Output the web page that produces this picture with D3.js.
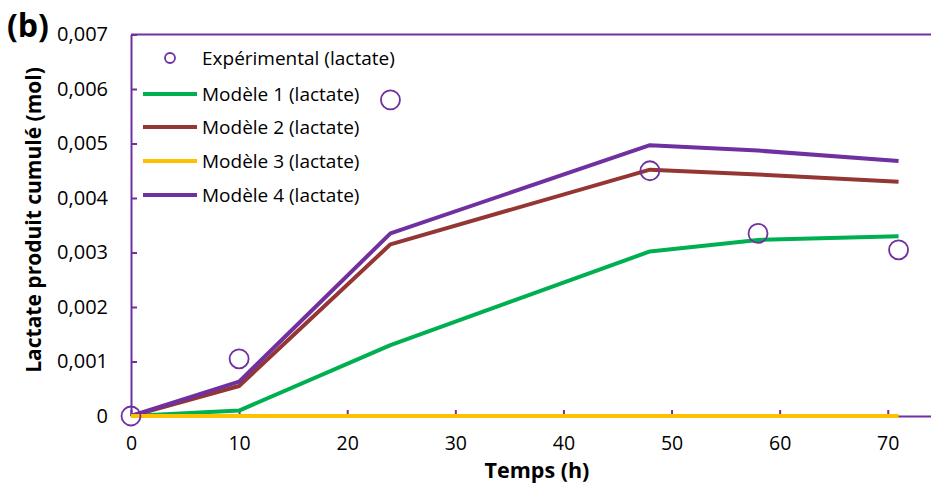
<!DOCTYPE html>
<html><head><meta charset="utf-8">
<script src="https://cdn.jsdelivr.net/npm/d3@7"></script>
<style>body{margin:0;background:#fff}svg{display:block}text{font-family:"Open Sans",Lato,sans-serif}</style>
</head><body><svg id="c" width="931" height="486"></svg>
<script>
const times = [0, 10, 24, 48, 58, 71];
const experimental = [0, 0.00105, 0.0058, 0.0045, 0.00335, 0.00305];
const modele1 = [0, 0.0001, 0.0013, 0.00302, 0.00323, 0.0033];
const modele2 = [0, 0.00055, 0.00315, 0.00452, 0.00443, 0.0043];
const modele3 = [0, 0, 0, 0, 0, 0];
const modele4 = [0, 0.00063, 0.00335, 0.00497, 0.00487, 0.00468];
const xTicks = [0, 10, 20, 30, 40, 50, 60, 70];
const yTicks = [0, 0.001, 0.002, 0.003, 0.004, 0.005, 0.006, 0.007];
const seriesNames = ["Expérimental (lactate)", "Modèle 1 (lactate)", "Modèle 2 (lactate)", "Modèle 3 (lactate)", "Modèle 4 (lactate)"];
const colors = {exp:"#7030A0", m1:"#00B050", m2:"#943634", m3:"#FFC000", m4:"#7030A0"};

const svg = d3.select("#c");
const x = d3.scaleLinear().domain([0, 74]).range([131, 931]);
const y = d3.scaleLinear().domain([0, 0.007]).range([416, 34.5]);
const axisColor = "#7030A0";
const fmt = d => d === 0 ? "0" : d3.format(".3f")(d).replace(".", ",");

// top border
svg.append("line").attr("x1", x(0)).attr("x2", 931).attr("y1", y(0.007)).attr("y2", y(0.007))
  .attr("stroke", axisColor).attr("stroke-width", 2);

// y axis
const ya = svg.append("g").attr("transform", `translate(${x(0)},0)`)
  .call(d3.axisLeft(y).tickValues(yTicks).tickFormat(fmt).tickSizeInner(-6).tickSizeOuter(0).tickPadding(23));
ya.select(".domain").attr("stroke", axisColor).attr("stroke-width", 2);
ya.selectAll(".tick line").attr("stroke", axisColor).attr("stroke-width", 2);
ya.selectAll("text").attr("font-size", 20).attr("fill", "#000").attr("font-family", "Open Sans");

// x axis
const xa = svg.append("g").attr("transform", `translate(0,${y(0)})`)
  .call(d3.axisBottom(x).tickValues(xTicks).tickFormat(d3.format("d")).tickSizeInner(-6).tickSizeOuter(0).tickPadding(20));
xa.select(".domain").attr("stroke", axisColor).attr("stroke-width", 2);
xa.selectAll(".tick line").attr("stroke", axisColor).attr("stroke-width", 2);
xa.selectAll("text").attr("font-size", 19.5).attr("fill", "#000").attr("font-family", "Open Sans");

// lines
const line = d3.line().x((d, i) => x(times[i])).y(d => y(d));
[[modele1, colors.m1], [modele2, colors.m2], [modele4, colors.m4], [modele3, colors.m3]].forEach(([data, c]) => {
  svg.append("path").datum(data).attr("d", line).attr("fill", "none").attr("stroke", c)
    .attr("stroke-width", 4).attr("stroke-linejoin", "round");
});

// experimental points
svg.selectAll("circle.exp").data(experimental).join("circle").attr("class", "exp")
  .attr("cx", (d, i) => x(times[i])).attr("cy", d => y(d)).attr("r", 9.5)
  .attr("fill", "none").attr("stroke", colors.exp).attr("stroke-width", 1.8);

// legend
const lg = svg.append("g");
const lgY = [58, 94, 127, 161, 195];
lg.append("circle").attr("cx", 170).attr("cy", lgY[0]).attr("r", 5).attr("fill", "none").attr("stroke", colors.exp).attr("stroke-width", 1.8);
[colors.m1, colors.m2, colors.m3, colors.m4].forEach((c, i) => {
  lg.append("line").attr("x1", 143).attr("x2", 197).attr("y1", lgY[i + 1]).attr("y2", lgY[i + 1]).attr("stroke", c).attr("stroke-width", 4);
});
seriesNames.forEach((n, i) => {
  lg.append("text").attr("x", 202).attr("y", lgY[i]).attr("dy", "0.35em").attr("font-size", 19).text(n);
});

// titles
svg.append("text").attr("x", 537).attr("y", 478).attr("text-anchor", "middle").attr("font-size", 21.5).attr("font-weight", "bold").text("Temps (h)");
svg.append("text").attr("transform", "translate(41,220) rotate(-90)").attr("text-anchor", "middle").attr("font-size", 21).attr("font-weight", "bold").text("Lactate produit cumulé (mol)");
svg.append("text").attr("x", 7).attr("y", 37).attr("font-size", 32).attr("font-weight", "bold").text("(b)");
</script></body></html>
